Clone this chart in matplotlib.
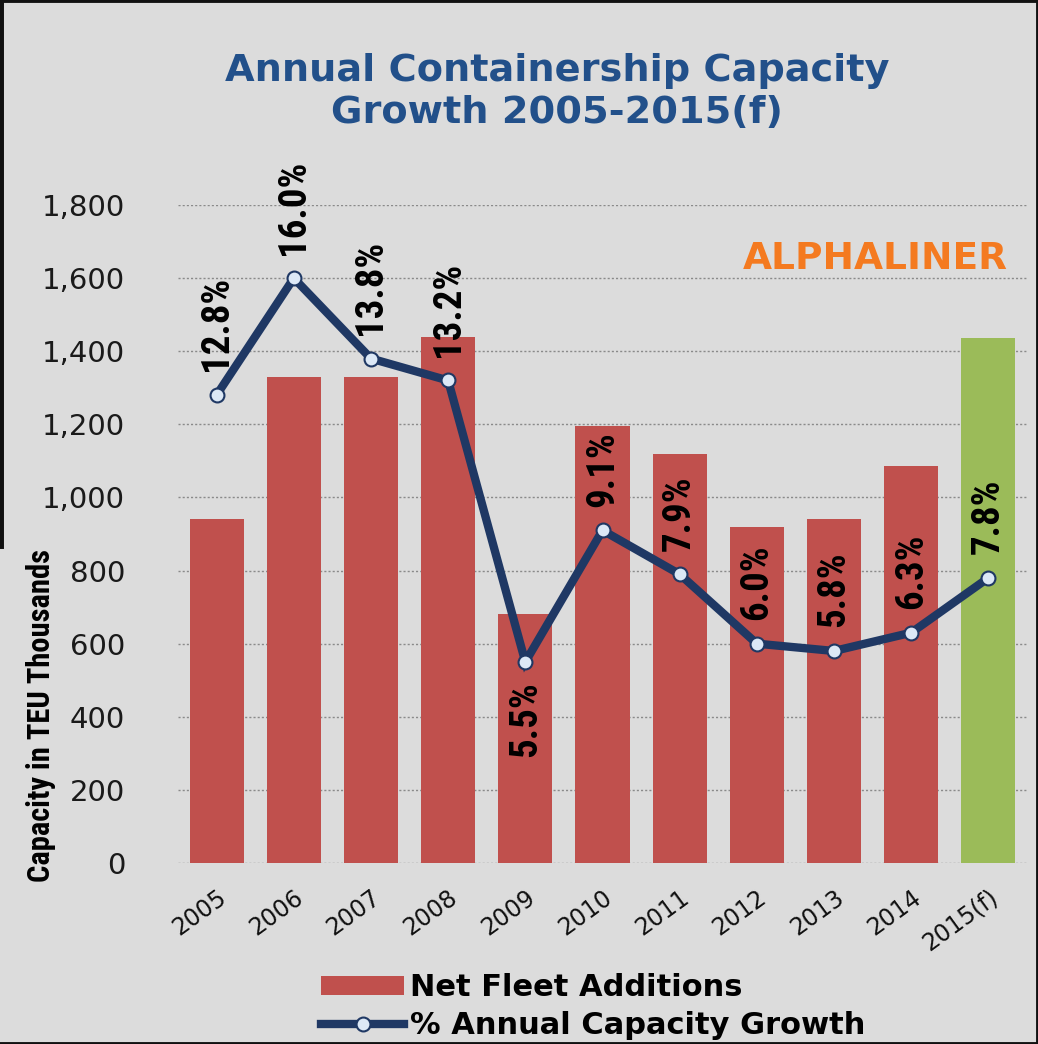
import matplotlib
matplotlib.use("Agg")
import matplotlib.pyplot as plt
from matplotlib import font_manager
from matplotlib.lines import Line2D
from matplotlib.patches import Patch

# --- data -------------------------------------------------------------
years = ["2005", "2006", "2007", "2008", "2009", "2010",
         "2011", "2012", "2013", "2014", "2015(f)"]
fleet_additions = [940, 1330, 1330, 1440, 680, 1195, 1120, 920, 940, 1085, 1435]
growth_pct = [12.8, 16.0, 13.8, 13.2, 5.5, 9.1, 7.9, 6.0, 5.8, 6.3, 7.8]
growth_labels = ["12.8%", "16.0%", "13.8%", "13.2%", "5.5%", "9.1%",
                 "7.9%", "6.0%", "5.8%", "6.3%", "7.8%"]
y_ticks = [0, 200, 400, 600, 800, 1000, 1200, 1400, 1600, 1800]
y_ticklabels = ["0", "200", "400", "600", "800", "1,000", "1,200",
                "1,400", "1,600", "1,800"]


def pick_font(candidates):
    for name in candidates:
        try:
            font_manager.findfont(name, fallback_to_default=False)
            return name
        except Exception:
            continue
    return "DejaVu Sans"


narrow = pick_font(["Liberation Sans Narrow", "Roboto Condensed", "Liberation Sans"])

BG = "#dcdcdc"
RED = "#c0504d"
GREEN = "#9bbb59"
NAVY = "#1f3864"
TITLE_BLUE = "#22508a"
ORANGE = "#f47a20"

W, H, DPI = 1038, 1044, 100
fig = plt.figure(figsize=(W / DPI, H / DPI), dpi=DPI, facecolor=BG)

left_px, right_px, top_px, bottom_px = 178, 1027, 205, 863
ax = fig.add_axes([left_px / W, 1 - bottom_px / H,
                   (right_px - left_px) / W, (bottom_px - top_px) / H])
ax.set_facecolor(BG)

x = list(range(len(years)))
bar_colors = [RED] * (len(years) - 1) + [GREEN]
ax.bar(x, fleet_additions, width=0.7, color=bar_colors, zorder=2,
       label="Net Fleet Additions")

ax.set_xlim(-0.5, len(years) - 0.5)
ax.set_ylim(0, 1800)
ax.set_yticks(y_ticks)
ax.set_yticklabels(y_ticklabels, fontsize=21, color="#1a1a1a",
                   family="DejaVu Sans")
ax.tick_params(axis="y", length=0, pad=38)
ax.yaxis.grid(True, linestyle=(0, (1.5, 1.5)), color="#8a8a8a",
              linewidth=1.0, zorder=0)
ax.set_xticks(x)
ax.set_xticklabels(years, rotation=36, ha="right", rotation_mode="anchor",
                   fontsize=17, color="#111111")
ax.tick_params(axis="x", length=0, pad=16)
for s in ax.spines.values():
    s.set_visible(False)

# secondary scale for the growth rate line
ax2 = ax.twinx()
ax2.set_ylim(0, 18)
ax2.set_axis_off()
ax2.plot(x, growth_pct, color=NAVY, linewidth=6, marker="o",
         markersize=10, markerfacecolor="#dce8f6", markeredgecolor=NAVY,
         markeredgewidth=1.5, zorder=3, solid_joinstyle="miter",
         label="% Annual Capacity Growth")

for xi, val, lab in zip(x, growth_pct, growth_labels):
    below = lab == "5.5%"
    ax2.annotate(lab, (xi, val), xytext=(0, -14 if below else 17),
                 textcoords="offset points", rotation=90, ha="center",
                 va="top" if below else "bottom", fontsize=28,
                 fontweight="bold", family=narrow, color="#000000",
                 annotation_clip=False, zorder=4)

# titles and annotations
fig.text(557 / W, 1 - 53 / H, "Annual Containership Capacity\nGrowth 2005-2015(f)",
         ha="center", va="top", fontsize=27.5, fontweight="bold",
         color=TITLE_BLUE, linespacing=1.2, family="DejaVu Sans")
fig.text(1008 / W, 1 - 259 / H, "ALPHALINER", ha="right", va="center",
         fontsize=27, fontweight="bold", color=ORANGE, family="DejaVu Sans")
fig.text(41 / W, 1 - 715 / H, "Capacity in TEU Thousands", rotation=90,
         ha="center", va="center", fontsize=22, fontweight="bold",
         family=narrow, color="#000000")

# legend
handles = [Patch(facecolor=RED, edgecolor="none"),
           Line2D([0], [0], color=NAVY, linewidth=6, marker="o", markersize=10,
                  markerfacecolor="#dce8f6", markeredgecolor=NAVY,
                  markeredgewidth=1.5)]
leg = fig.legend(handles, ["Net Fleet Additions", "% Annual Capacity Growth"],
                 loc="upper left", bbox_to_anchor=(306 / W, 1 - 958 / H),
                 frameon=False, prop={"size": 22, "weight": "bold",
                                      "family": "DejaVu Sans"},
                 handlelength=2.7, handleheight=0.6, handletextpad=0.2,
                 labelspacing=0.3, borderpad=0)

# dark frame around the picture
frame = dict(color="#111111", linewidth=3.5, transform=fig.transFigure)
fig.add_artist(Line2D([0, 1], [1, 1], **frame))
fig.add_artist(Line2D([1, 1], [0, 1], **frame))
fig.add_artist(Line2D([0, 1], [0, 0], **frame))
fig.add_artist(Line2D([0, 0], [1 - 545 / H, 1], color="#111111", linewidth=5,
                      transform=fig.transFigure))

fig.savefig("out.png", dpi=DPI, facecolor=BG)
